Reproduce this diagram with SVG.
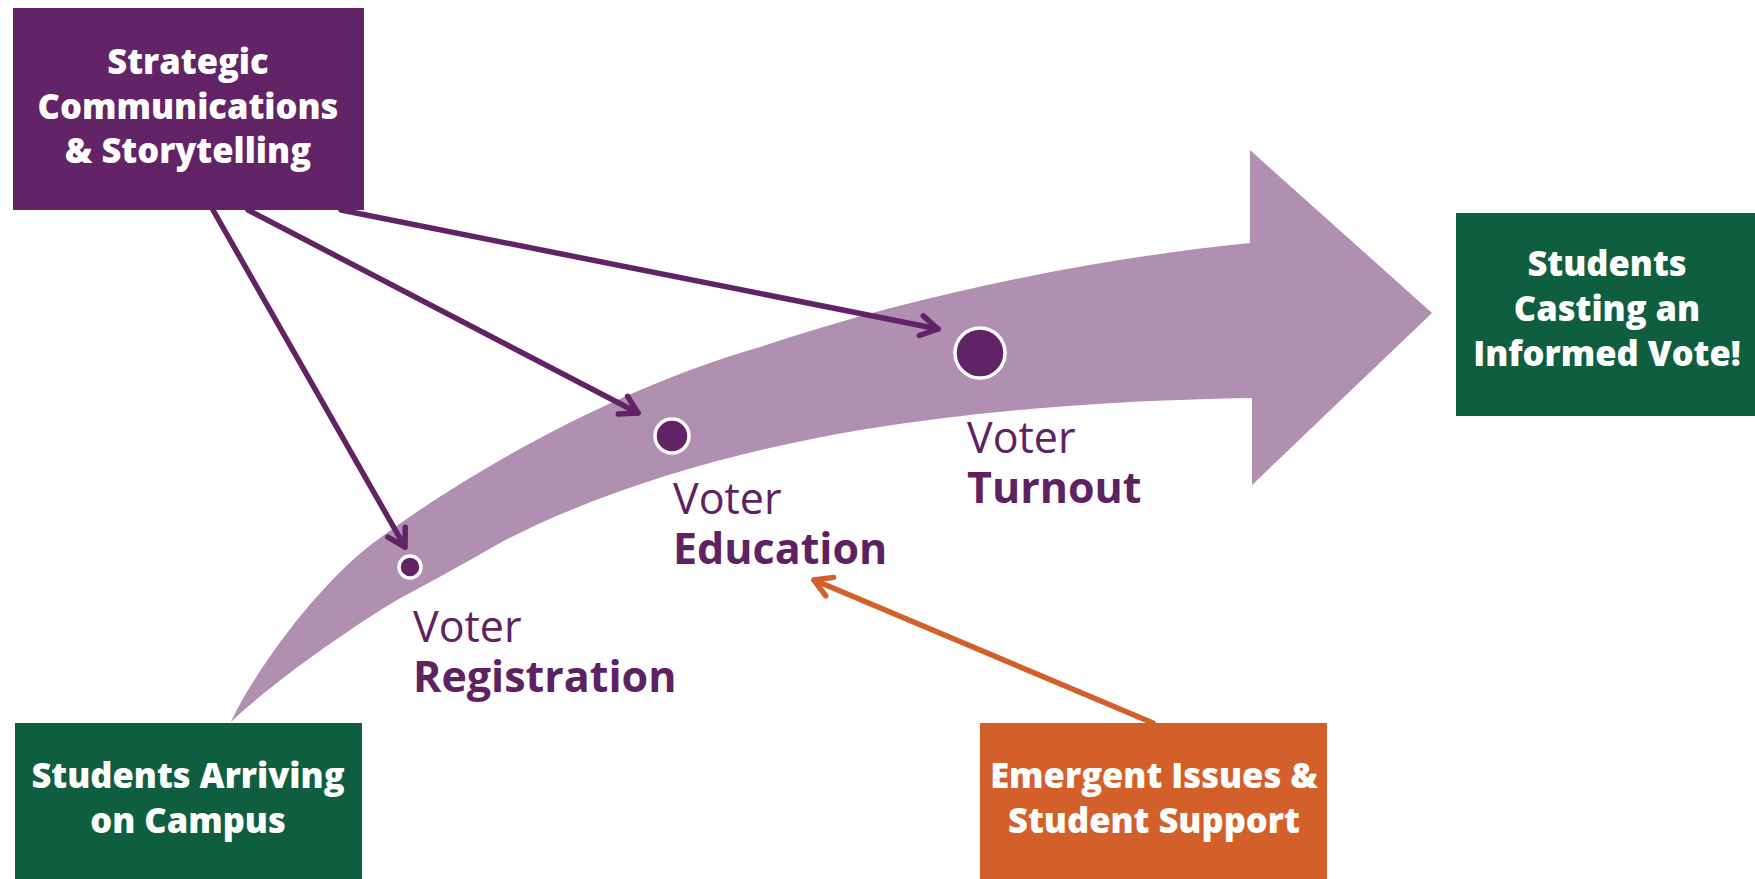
<svg xmlns="http://www.w3.org/2000/svg" width="1755" height="879" viewBox="0 0 1755 879">
<defs>
<style>
.box-text{font-family:"Open Sans","Liberation Sans",sans-serif;font-weight:800;font-size:34.5px;fill:#ffffff;text-anchor:middle}
.lbl{font-family:"Open Sans","Liberation Sans",sans-serif;font-size:43px;fill:#5e2263}
.lbl-b{font-weight:700}
.dot{fill:#612366;stroke:#ffffff;stroke-width:3.5}
.conn{fill:none;stroke-width:5.5;stroke-linecap:round}
.purple{stroke:#612366}
.orange{stroke:#d3602a}
</style>
<marker id="ahP" viewBox="0 0 26 26" refX="22" refY="13" markerWidth="26" markerHeight="26" markerUnits="userSpaceOnUse" orient="auto">
<path d="M5,3 L22,13 L5,23" fill="none" stroke="#612366" stroke-width="5.5" stroke-linecap="round" stroke-linejoin="round"/>
</marker>
<marker id="ahO" viewBox="0 0 26 26" refX="22" refY="13" markerWidth="26" markerHeight="26" markerUnits="userSpaceOnUse" orient="auto">
<path d="M5,3 L22,13 L5,23" fill="none" stroke="#d3602a" stroke-width="5.5" stroke-linecap="round" stroke-linejoin="round"/>
</marker>
</defs>
<rect width="1755" height="879" fill="#ffffff"/>

<g id="flow-arrow">
<path fill="#b08fb0" d="M231,722 C252,675 320,580 380,538 C488,458 636,382 760,347 C912,296 1090,259 1250,243 L1250,150 L1432,313 L1252,485 L1252,398 C1122,400 988,409 860,430 C742,450 606,487 500,543 C465,563 432,581 397,600 C345,631 267,687 231,722 Z"/>
</g>

<g id="node-strategic">
<rect x="13" y="8" width="351" height="202" fill="#622466"/>
<text class="box-text" x="188" y="74">Strategic</text>
<text class="box-text" x="188" y="119">Communications</text>
<text class="box-text" x="188" y="163">&amp; Storytelling</text>
</g>

<g id="node-informed-vote">
<rect x="1456" y="213" width="299" height="203" fill="#0f5e3f"/>
<text class="box-text" x="1607" y="276">Students</text>
<text class="box-text" x="1607" y="321">Casting an</text>
<text class="box-text" x="1607" y="366">Informed Vote!</text>
</g>

<g id="node-arriving">
<rect x="15" y="723" width="347" height="156" fill="#0f5e3f"/>
<text class="box-text" x="188" y="788">Students Arriving</text>
<text class="box-text" x="188" y="833">on Campus</text>
</g>

<g id="node-emergent">
<rect x="980" y="723" width="347" height="156" fill="#d3602a"/>
<text class="box-text" x="1154" y="788">Emergent Issues &amp;</text>
<text class="box-text" x="1154" y="833">Student Support</text>
</g>

<g id="node-registration">
<circle class="dot" cx="410" cy="567" r="11"/>
<text class="lbl" x="413" y="642">Voter</text>
<text class="lbl lbl-b" x="413" y="692">Registration</text>
</g>

<g id="node-education">
<circle class="dot" cx="672" cy="436" r="17"/>
<text class="lbl" x="673" y="514">Voter</text>
<text class="lbl lbl-b" x="673" y="564">Education</text>
</g>

<g id="node-turnout">
<circle class="dot" cx="980" cy="353" r="25"/>
<text class="lbl" x="967" y="453">Voter</text>
<text class="lbl lbl-b" x="967" y="503">Turnout</text>
</g>

<g id="connectors">
<line class="conn purple" x1="213" y1="210" x2="405" y2="547" marker-end="url(#ahP)"/>
<line class="conn purple" x1="248" y1="210" x2="638" y2="413" marker-end="url(#ahP)"/>
<line class="conn purple" x1="341" y1="210" x2="938" y2="329" marker-end="url(#ahP)"/>
<line class="conn orange" x1="1153" y1="723" x2="814" y2="580" marker-end="url(#ahO)"/>
</g>
</svg>
